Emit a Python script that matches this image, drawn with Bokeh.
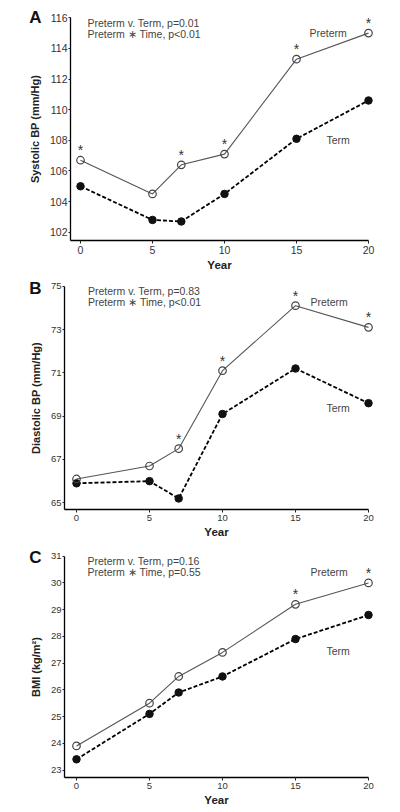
from bokeh.plotting import figure
from bokeh.layouts import column
from bokeh.models import Range1d, Label, ColumnDataSource
from bokeh.core.properties import value
from bokeh.embed import file_html
from bokeh.resources import INLINE

# ---------------- data ----------------
years = [0, 5, 7, 10, 15, 20]
x_ticks = [0, 5, 10, 15, 20]

sbp_preterm = [106.7, 104.5, 106.4, 107.1, 113.3, 115.0]
sbp_term = [105.0, 102.8, 102.7, 104.5, 108.1, 110.6]
sbp_sig_years = [0, 7, 10, 15, 20]
sbp_ticks = [102, 104, 106, 108, 110, 112, 114, 116]
sbp_stats = ["Preterm v. Term, p=0.01", "Preterm \u2217 Time, p<0.01"]

dbp_preterm = [66.1, 66.7, 67.5, 71.1, 74.1, 73.1]
dbp_term = [65.9, 66.0, 65.2, 69.1, 71.2, 69.6]
dbp_sig_years = [7, 10, 15, 20]
dbp_ticks = [65, 67, 69, 71, 73, 75]
dbp_stats = ["Preterm v. Term, p=0.83", "Preterm \u2217 Time, p<0.01"]

bmi_preterm = [23.9, 25.5, 26.5, 27.4, 29.2, 30.0]
bmi_term = [23.4, 25.1, 25.9, 26.5, 27.9, 28.8]
bmi_sig_years = [15, 20]
bmi_ticks = [23, 24, 25, 26, 27, 28, 29, 30, 31]
bmi_stats = ["Preterm v. Term, p=0.16", "Preterm \u2217 Time, p=0.55"]

FONT = "Liberation Sans"
PAGE_LEFT = 0
PAGE_RIGHT = 392


def panel(letter, ylabel, pre, term, sig, yticks, stats,
          fig_top, fig_bottom, ax_left, ax_bottom,
          x0_px, x20_px, yhi, yhi_px, ylo, ylo_px,
          letter_px, stats_px, pre_lab_px, term_lab_px, tick_size):
    sx = (x20_px - x0_px) / 20.0
    sy = (ylo_px - yhi_px) / (yhi - ylo)

    def dx(px):
        return (px - x0_px) / sx

    def dy(py):
        return yhi - (py - yhi_px) / sy

    p = figure(frame_width=PAGE_RIGHT - PAGE_LEFT, frame_height=fig_bottom - fig_top,
               x_range=Range1d(dx(PAGE_LEFT), dx(PAGE_RIGHT)),
               y_range=Range1d(dy(fig_bottom), dy(fig_top)),
               output_backend="svg", toolbar_location=None,
               min_border=0, min_border_left=0, min_border_right=0,
               min_border_top=0, min_border_bottom=0)
    p.outline_line_color = None
    p.grid.visible = False
    p.background_fill_color = "white"
    p.border_fill_color = "white"

    p.xaxis.ticker = x_ticks
    p.yaxis.ticker = yticks
    p.xaxis.fixed_location = dy(ax_bottom)
    p.yaxis.fixed_location = dx(ax_left)
    p.xaxis.bounds = (dx(ax_left), 20)
    p.yaxis.bounds = (dy(ax_bottom), yhi)
    for ax in (p.xaxis, p.yaxis):
        ax.axis_line_width = 1.3
        ax.axis_line_color = "black"
        ax.major_tick_in = 0
        ax.major_tick_out = 3
        ax.major_tick_line_color = "#222"
        ax.minor_tick_in = 0
        ax.minor_tick_out = 0
        ax.major_label_text_font = FONT
        ax.major_label_text_font_size = tick_size
        ax.major_label_text_color = "#333"
        ax.axis_label_text_font = FONT
        ax.axis_label_text_font_style = "bold"
        ax.axis_label_text_color = "#222"
    p.yaxis.major_tick_out = 2
    p.yaxis.major_label_standoff = 1
    p.xaxis.axis_label = "Year"
    p.xaxis.axis_label_text_font_size = "11.5px"
    p.xaxis.axis_label_standoff = 2
    p.xaxis.major_label_standoff = 2
    p.yaxis.axis_label = ylabel
    p.yaxis.axis_label_text_font_size = "11px"
    p.yaxis.axis_label_standoff = 6

    # term: dashed, filled
    p.line(years, term, line_color="black", line_width=1.8, line_dash="4 2")
    p.scatter(years, term, size=7.5, marker="circle", fill_color="#111",
              line_color="#111", line_width=1)
    # preterm: solid, open
    p.line(years, pre, line_color="#555", line_width=1.1)
    p.scatter(years, pre, size=7.5, marker="circle", fill_alpha=0,
              line_color="#444", line_width=1.2)

    # significance asterisks
    src = ColumnDataSource(dict(x=sig, y=[pre[years.index(s)] for s in sig],
                                t=["*"] * len(sig)))
    p.text(x="x", y="y", text="t", source=src, text_align="center",
           text_baseline="middle", y_offset=-10, text_font=value(FONT),
           text_font_size="14px", text_color="#333")

    # panel letter
    p.add_layout(Label(x=dx(letter_px[0]), y=dy(letter_px[1]), text=letter,
                       text_font=FONT, text_font_style="bold",
                       text_font_size="17px", text_color="#111",
                       text_align="center", text_baseline="middle"))
    # statistics text
    for i, s in enumerate(stats):
        p.add_layout(Label(x=dx(stats_px[0]), y=dy(stats_px[1] + 11.3 * i),
                           text=s, text_font=FONT, text_font_size="10.5px",
                           text_color="#444", text_align="left",
                           text_baseline="middle"))
    p.add_layout(Label(x=dx(pre_lab_px[0]), y=dy(pre_lab_px[1]), text="Preterm",
                       text_font=FONT, text_font_size="10.5px", text_color="#444",
                       text_align="left", text_baseline="middle"))
    p.add_layout(Label(x=dx(term_lab_px[0]), y=dy(term_lab_px[1]), text="Term",
                       text_font=FONT, text_font_size="10.5px", text_color="#444",
                       text_align="left", text_baseline="middle"))
    return p


pA = panel("A", "Systolic BP (mm/Hg)", sbp_preterm, sbp_term, sbp_sig_years,
           sbp_ticks, sbp_stats,
           fig_top=0, fig_bottom=270, ax_left=70, ax_bottom=240,
           x0_px=80, x20_px=368, yhi=116, yhi_px=17.3, ylo=102, ylo_px=231.7,
           letter_px=(35, 17), stats_px=(87, 22.5), pre_lab_px=(309, 32.7),
           term_lab_px=(326, 139.3), tick_size="10.5px")

pB = panel("B", "Diastolic BP (mm/Hg)", dbp_preterm, dbp_term, dbp_sig_years,
           dbp_ticks, dbp_stats,
           fig_top=270, fig_bottom=540, ax_left=64, ax_bottom=509,
           x0_px=76, x20_px=368, yhi=75, yhi_px=285.7, ylo=65, ylo_px=502.3,
           letter_px=(35, 288), stats_px=(87.5, 290), pre_lab_px=(310, 301.7),
           term_lab_px=(326, 407), tick_size="9.5px")

pC = panel("C", "BMI (kg/m\u00b2)", bmi_preterm, bmi_term, bmi_sig_years,
           bmi_ticks, bmi_stats,
           fig_top=540, fig_bottom=808, ax_left=64, ax_bottom=777,
           x0_px=76, x20_px=368, yhi=31, yhi_px=555.7, ylo=23, ylo_px=769.5,
           letter_px=(35, 557), stats_px=(87, 560), pre_lab_px=(310, 571.7),
           term_lab_px=(326, 650), tick_size="9.5px")

layout = column(pA, pB, pC, spacing=0)
open("out.html", "w").write(file_html(layout, INLINE))
